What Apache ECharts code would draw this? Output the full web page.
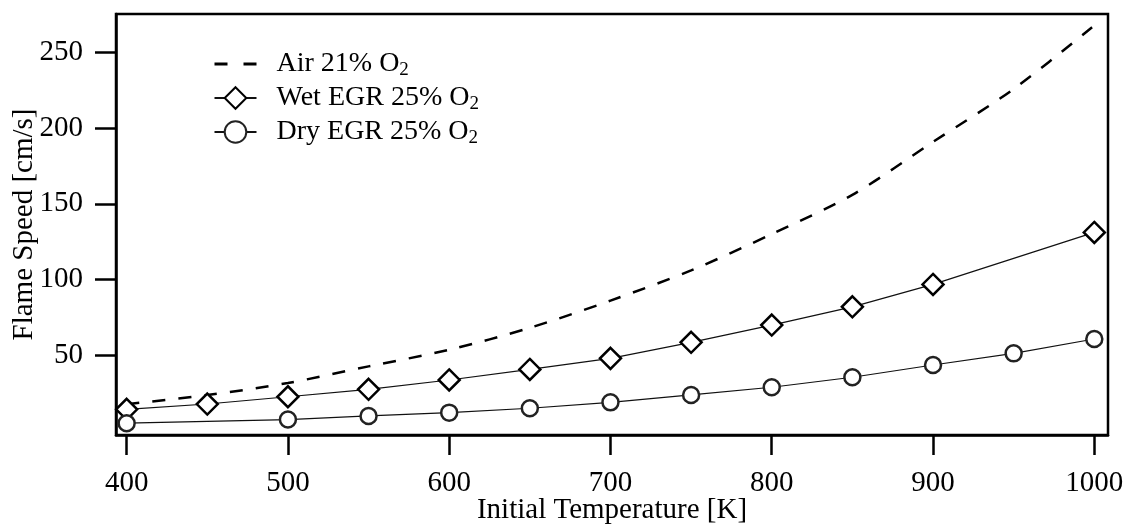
<!DOCTYPE html>
<html>
<head>
<meta charset="utf-8">
<script src="https://cdn.jsdelivr.net/npm/echarts@6/dist/echarts.min.js"></script>
<style>html,body{margin:0;padding:0;background:#fff}#c{width:1124px;height:526px}</style>
</head>
<body>
<div id="c"></div>
<script>
const airT = [400,450,500,550,600,650,700,750,800,850,900,950,1000];
const airV = [17.5,23.5,31.5,42.5,53.5,68,86,106,130,156,191,226,268];
const wetT = [400,450,500,550,600,650,700,750,800,850,900,1000];
const wetV = [14.1,17.6,22.4,27.3,33.5,40.5,47.8,58.4,69.8,81.9,96.7,131.1];
const dryT = [400,500,550,600,650,700,750,800,850,900,950,1000];
const dryV = [4.9,7.3,9.7,11.9,14.8,18.7,23.6,28.7,35.3,43.4,51.1,60.6];
const xTicks = [400,500,600,700,800,900,1000];
const yTicks = [50,100,150,200,250];
const names = ['Air 21% O2','Wet EGR 25% O2','Dry EGR 25% O2'];

const FONT = 'Liberation Serif';
const zip = (a,b) => a.map((v,i)=>[v,b[i]]);
const chart = echarts.init(document.getElementById('c'));
chart.setOption({
  animation: false,
  grid: {left:116, right:16, top:14, bottom:91, show:true, borderColor:'#000', borderWidth:2.5,
         outerBoundsMode:'none', containLabel:false},
  legend: {
    orient:'vertical', left:208, top:45, itemGap:4, itemWidth:42, itemHeight:27,
    data: [{name:names[0], itemStyle:{opacity:0}, lineStyle:{width:3, type:[13,16], color:'#000'}},
           {name:names[1]}, {name:names[2]}],
    formatter: n => n.replace('O2','O{sub|2}'),
    textStyle: {fontFamily:FONT, fontSize:28, color:'#000', padding:[0,0,0,15],
      rich:{sub:{fontFamily:FONT, fontSize:19, color:'#000', padding:[13,0,0,0]}}}
  },
  xAxis: {
    type:'value', min:393.4, max:1008.5,
    name:'Initial Temperature [K]', nameLocation:'middle', nameGap:61, nameMoveOverlap:false,
    nameTextStyle:{fontFamily:FONT, fontSize:29, color:'#000'},
    axisLine:{show:true, onZero:false, lineStyle:{color:'#000', width:2.5}},
    axisTick:{show:true, inside:false, length:20, lineStyle:{color:'#000', width:2.5}, customValues:xTicks},
    axisLabel:{fontFamily:FONT, fontSize:29, color:'#000', margin:34, customValues:xTicks, formatter: v => String(v)},
    splitLine:{show:false}
  },
  yAxis: {
    type:'value', min:-2.9, max:275.6,
    name:'Flame Speed [cm/s]', nameLocation:'middle', nameGap:77, nameMoveOverlap:false,
    nameTextStyle:{fontFamily:FONT, fontSize:29, color:'#000'},
    axisLine:{show:true, onZero:false, lineStyle:{color:'#000', width:2.5}},
    axisTick:{show:true, inside:false, length:21, lineStyle:{color:'#000', width:2.5}, customValues:yTicks},
    axisLabel:{fontFamily:FONT, fontSize:29, color:'#000', margin:33, customValues:yTicks, formatter: v => String(v)},
    splitLine:{show:false}
  },
  series: [
    {name:names[0], type:'line', data:zip(airT,airV), symbol:'none', smooth:0.3,
     lineStyle:{color:'#000', width:2.5, type:[13,13]}, itemStyle:{color:'#000'}, z:3},
    {name:names[1], type:'line', data:zip(wetT,wetV), symbol:'diamond', symbolSize:21,
     lineStyle:{color:'#111', width:1.2}, itemStyle:{color:'#fff', borderColor:'#000', borderWidth:2.5}, z:4},
    {name:names[2], type:'line', data:zip(dryT,dryV), symbol:'circle', symbolSize:16,
     lineStyle:{color:'#111', width:1.2}, itemStyle:{color:'#fff', borderColor:'#222', borderWidth:2.5}, z:4}
  ]
});
</script>
</body>
</html>
